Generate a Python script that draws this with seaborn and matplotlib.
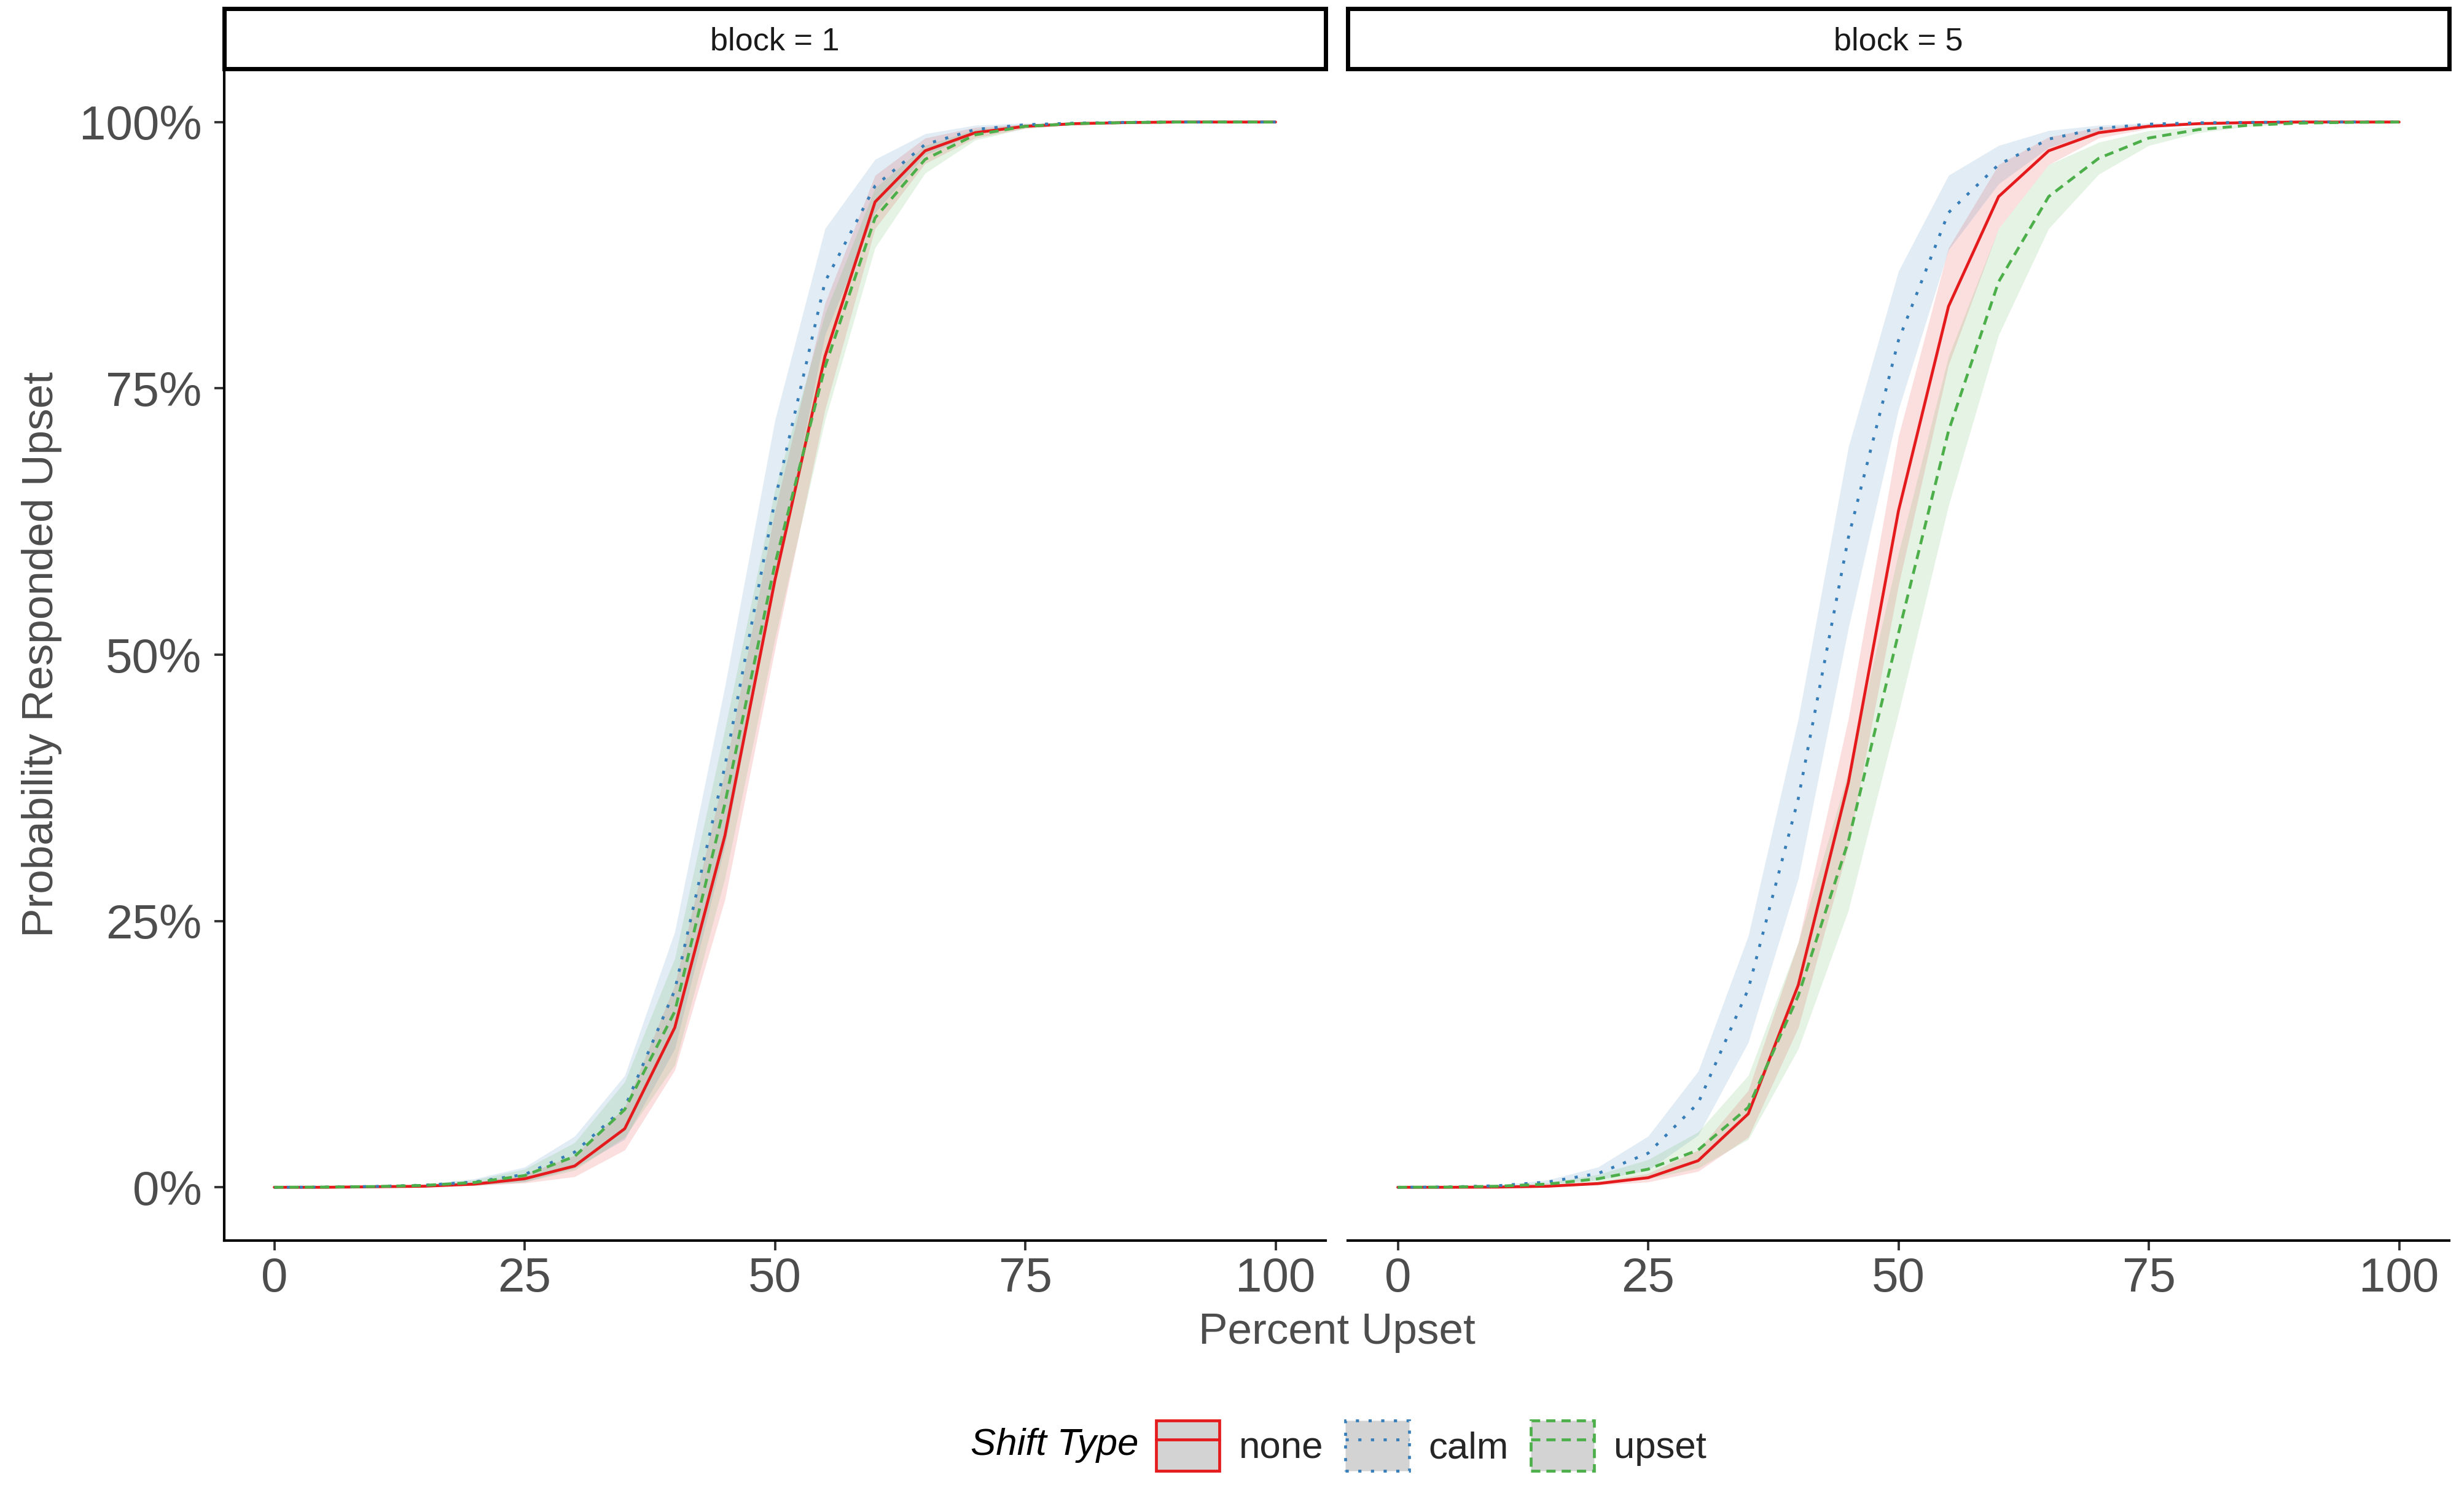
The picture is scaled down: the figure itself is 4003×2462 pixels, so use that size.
import numpy as np
import pandas as pd
import matplotlib
matplotlib.use("Agg")
import matplotlib.pyplot as plt
import seaborn as sns
from matplotlib.patches import Patch, Rectangle
from matplotlib.lines import Line2D
from matplotlib.legend_handler import HandlerTuple
from matplotlib.ticker import PercentFormatter

# ---------------- data ----------------
percent_upset = [0, 5, 10, 15, 20, 25, 30, 35, 40, 45, 50, 55, 60, 65, 70, 75, 80, 85, 90, 95, 100]
shift_types = ["none", "calm", "upset"]
blocks = [1, 5]

# predicted probability (%) of responding "upset"
none_b1 = [0, 0.0, 0.05, 0.1, 0.3, 0.8, 2.0, 5.5, 15.0, 33.0, 57.0, 78.0, 92.5, 97.3, 99.0, 99.6, 99.85, 99.95, 100, 100, 100]
calm_b1 = [0, 0.02, 0.08, 0.2, 0.5, 1.2, 3.3, 7.5, 18.5, 39.5, 64.5, 85.0, 94.0, 97.9, 99.3, 99.75, 99.9, 99.97, 100, 100, 100]
upset_b1 = [0, 0.02, 0.07, 0.18, 0.45, 1.1, 2.9, 7.3, 16.5, 36.0, 58.5, 77.0, 91.0, 96.5, 98.8, 99.6, 99.85, 99.95, 100, 100, 100]

none_b5 = [0, 0.0, 0.02, 0.1, 0.35, 0.9, 2.5, 6.9, 19.0, 38.0, 63.5, 82.7, 93.0, 97.3, 99.0, 99.6, 99.85, 99.95, 100, 100, 100]
calm_b5 = [0, 0.03, 0.15, 0.5, 1.3, 3.2, 7.9, 18.6, 36.5, 61.0, 79.5, 91.5, 96.0, 98.4, 99.4, 99.8, 99.93, 99.97, 100, 100, 100]
upset_b5 = [0, 0.02, 0.1, 0.3, 0.8, 1.7, 3.5, 7.5, 18.0, 32.5, 52.0, 71.0, 85.0, 93.0, 96.6, 98.5, 99.3, 99.7, 99.9, 99.97, 100]

# half-width (%) of the confidence ribbons
hw_none_b1 = [0, 0, 0, 0.05, 0.15, 0.4, 1.0, 2.0, 4.0, 6.0, 6.5, 5.0, 2.5, 1.2, 0.5, 0.2, 0.1, 0, 0, 0, 0]
hw_calm_b1 = [0, 0, 0.02, 0.1, 0.3, 0.7, 1.5, 3.0, 5.5, 7.5, 7.5, 5.0, 2.5, 1.0, 0.4, 0.15, 0.05, 0, 0, 0, 0]
hw_upset_b1 = [0, 0, 0.02, 0.08, 0.25, 0.6, 1.3, 2.6, 5.0, 7.0, 7.0, 5.0, 2.8, 1.3, 0.5, 0.2, 0.05, 0, 0, 0, 0]
hw_none_b5 = [0, 0, 0, 0.05, 0.15, 0.4, 1.0, 2.2, 4.0, 6.0, 7.0, 5.5, 3.0, 1.3, 0.5, 0.2, 0.05, 0, 0, 0, 0]
hw_calm_b5 = [0, 0, 0.05, 0.2, 0.6, 1.6, 3.0, 5.0, 7.5, 8.5, 6.5, 3.5, 1.8, 0.8, 0.3, 0.1, 0.05, 0, 0, 0, 0]
hw_upset_b5 = [0, 0, 0.03, 0.15, 0.4, 0.9, 1.7, 3.0, 5.0, 6.5, 7.5, 7.0, 5.0, 3.0, 1.5, 0.7, 0.3, 0.1, 0.05, 0, 0]

x_ticks = [0, 25, 50, 75, 100]
y_ticks = [0, 0.25, 0.5, 0.75, 1.0]

# ---------------- build table ----------------
series = {
    (1, "none"): (none_b1, hw_none_b1),
    (1, "calm"): (calm_b1, hw_calm_b1),
    (1, "upset"): (upset_b1, hw_upset_b1),
    (5, "none"): (none_b5, hw_none_b5),
    (5, "calm"): (calm_b5, hw_calm_b5),
    (5, "upset"): (upset_b5, hw_upset_b5),
}
rows = []
for (blk, st), (vals, hws) in series.items():
    for xv, v, h in zip(percent_upset, vals, hws):
        rows.append(dict(block=blk, shift=st, x=xv, p=v / 100.0,
                         lo=max(0.0, (v - h) / 100.0), hi=min(1.0, (v + h) / 100.0)))
df = pd.DataFrame(rows)

# ---------------- style ----------------
sns.set_theme(style="white")
plt.rcParams["font.family"] = ["Liberation Sans", "DejaVu Sans"]

palette = {"none": "#E41A1C", "calm": "#377EB8", "upset": "#4DAF4A"}
dash_map = {"none": "", "calm": (1.1, 3.3), "upset": (3.2, 2.1)}
mpl_ls = {"none": "-", "calm": (0, (1.1, 3.3)), "upset": (0, (3.2, 2.1))}
LW = 1.35
TXT = "#4D4D4D"

W, H = 4003, 2462
DPI = 250
fig = plt.figure(figsize=(W / DPI, H / DPI), dpi=DPI)
fig.patch.set_facecolor("white")

ax_w = 1793 / W
ax_bottom = 1 - 2020 / H
ax_h = (2020 - 112) / H
lefts = [365 / W, 2194 / W]

for i, blk in enumerate(blocks):
    ax = fig.add_axes([lefts[i], ax_bottom, ax_w, ax_h])
    ax.set_facecolor("white")
    sub = df[df["block"] == blk]
    for st in shift_types:
        s = sub[sub["shift"] == st]
        ax.fill_between(s["x"], s["lo"], s["hi"], color=palette[st], alpha=0.14, lw=0)
    sns.lineplot(data=sub, x="x", y="p", hue="shift", style="shift",
                 hue_order=shift_types, style_order=shift_types,
                 palette=palette, dashes=dash_map, linewidth=LW,
                 errorbar=None, legend=False, ax=ax)
    ax.set_xlim(-5, 105)
    ax.set_ylim(-0.05, 1.05)
    ax.set_xticks(x_ticks)
    ax.set_yticks(y_ticks)
    ax.yaxis.set_major_formatter(PercentFormatter(1.0, decimals=0))
    ax.set_xlabel("")
    ax.set_ylabel("")
    for sp in ["top", "right"]:
        ax.spines[sp].set_visible(False)
    for sp in ["left", "bottom"]:
        ax.spines[sp].set_color("black")
        ax.spines[sp].set_linewidth(1.2)
    ax.tick_params(axis="both", which="major", direction="out", length=4.5, width=1.1,
                   color="#333333", labelsize=22.5, labelcolor=TXT,
                   bottom=True, left=True)
    ax.tick_params(axis="x", pad=3)
    ax.tick_params(axis="y", pad=6)
    if i == 1:
        ax.spines["left"].set_visible(False)
        ax.tick_params(axis="y", left=False, labelleft=False)
    ax.grid(False)

    # facet strip
    strip_bottom = 1 - 112 / H
    strip_h = 98 / H
    rect = Rectangle((lefts[i], strip_bottom), ax_w, strip_h, transform=fig.transFigure,
                     facecolor="white", edgecolor="black", linewidth=2.0, zorder=5)
    fig.patches.append(rect)
    fig.text(lefts[i] + ax_w / 2, strip_bottom + strip_h / 2 - 0.002, f"block = {blk}",
             ha="center", va="center", fontsize=15, color="#1A1A1A", zorder=6)

# axis titles
fig.text(2176 / W, 1 - 2188 / H, "Percent Upset", ha="center", va="baseline",
         fontsize=20.5, color=TXT)
fig.text(68 / W, 1 - 1066 / H, "Probability Responded Upset", ha="center", va="center",
         rotation=90, fontsize=20.5, color=TXT)

# legend
handles = []
for st in shift_types:
    patch = Patch(facecolor="#D3D3D3", edgecolor=palette[st], linestyle=mpl_ls[st], linewidth=LW)
    line = Line2D([], [], color=palette[st], linestyle=mpl_ls[st], linewidth=LW)
    handles.append((patch, line))
fig.legend(handles, shift_types, handler_map={tuple: HandlerTuple(ndivide=1)},
           loc="center", bbox_to_anchor=(2330 / W, 1 - 2354 / H), ncol=3,
           frameon=False, fontsize=17.8, handlelength=1.67, handleheight=1.65,
           handletextpad=0.52, columnspacing=0.58, borderpad=0, borderaxespad=0)
fig.text(1853 / W, 1 - 2354 / H, "Shift Type", ha="right", va="center",
         fontsize=17.8, style="italic", color="black")

fig.savefig("out.png", dpi=DPI, facecolor="white")
